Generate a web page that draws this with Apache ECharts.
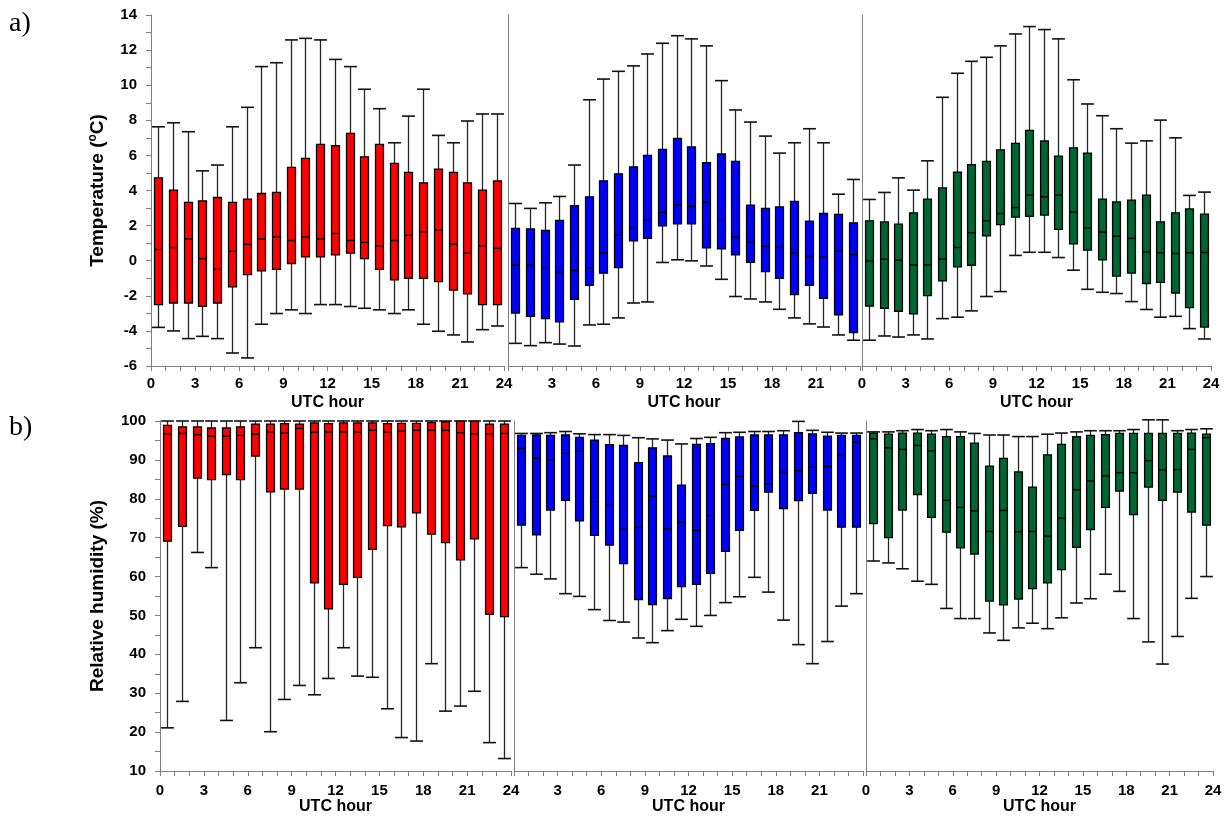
<!DOCTYPE html>
<html>
<head>
<meta charset="utf-8">
<script src="https://cdn.jsdelivr.net/npm/echarts/dist/echarts.min.js"></script>
<style>
  html, body { margin: 0; padding: 0; background: #fff; }
  #chart { width: 1226px; height: 816px; }
</style>
</head>
<body>
<div id="chart"></div>
<script>
// Hour of day (UTC) for each box
const hours = [0, 1, 2, 3, 4, 5, 6, 7, 8, 9, 10, 11, 12, 13, 14, 15, 16, 17, 18, 19, 20, 21, 22, 23];

// Each row: [min, lower quartile, median, upper quartile, max]
// a) Temperature (°C)
const tempRed = [
  [-3.80, -2.50, 0.64, 4.72, 7.63], [-4.00, -2.41, 0.75, 4.02, 7.86], [-4.44, -2.41, 1.24, 3.32, 7.35],
  [-4.31, -2.60, 0.12, 3.41, 5.12], [-4.44, -2.41, -0.49, 3.60, 5.45], [-5.26, -1.49, 0.54, 3.32, 7.63],
  [-5.54, -0.79, 0.94, 3.51, 8.74], [-3.62, -0.58, 1.24, 3.83, 11.06], [-3.01, -0.49, 1.36, 3.89, 11.28],
  [-2.80, -0.16, 1.15, 5.32, 12.58], [-3.01, 0.22, 1.36, 5.83, 12.67], [-2.50, 0.22, 1.24, 6.63, 12.58],
  [-2.50, 0.33, 1.55, 6.55, 11.47], [-2.61, 0.43, 1.15, 7.26, 11.06], [-2.71, 0.12, 1.04, 5.92, 9.77],
  [-2.80, -0.49, 0.85, 6.63, 8.66], [-3.01, -1.09, 1.15, 5.54, 6.72], [-2.80, -1.00, 1.45, 5.03, 8.24],
  [-3.62, -1.00, 1.64, 4.44, 9.77], [-4.02, -1.19, 1.76, 5.22, 7.14], [-4.23, -1.68, 0.94, 5.03, 6.72],
  [-4.63, -1.89, 0.43, 4.44, 7.96], [-3.93, -2.50, 0.85, 4.02, 8.36], [-3.72, -2.50, 0.70, 4.54, 8.36]
];
const tempBlue = [
  [-4.71, -2.98, -0.24, 1.84, 3.26], [-4.84, -3.17, -0.24, 1.81, 2.98], [-4.67, -3.30, -0.39, 1.72, 3.30],
  [-4.75, -3.49, -0.64, 2.29, 3.66], [-4.86, -2.20, -0.56, 3.13, 5.45], [-3.66, -1.40, -0.41, 3.64, 9.17],
  [-3.62, -0.71, 0.45, 4.55, 10.35], [-3.26, -0.39, 1.45, 4.95, 10.79], [-2.41, 1.13, 1.89, 5.35, 11.10],
  [-2.35, 1.27, 2.35, 6.00, 11.78], [-0.10, 1.99, 2.75, 6.34, 12.39], [0.05, 2.10, 3.18, 6.97, 12.82],
  [-0.01, 2.10, 3.09, 6.49, 12.64], [-0.30, 0.73, 3.34, 5.58, 12.24], [-1.06, 0.67, 2.35, 6.08, 10.26],
  [-2.04, 0.33, 1.36, 5.66, 8.59], [-2.18, -0.10, 1.07, 3.17, 7.90], [-2.35, -0.62, 0.83, 2.98, 7.10],
  [-2.77, -1.00, 0.77, 3.07, 6.13], [-3.26, -1.93, 0.45, 3.38, 6.72], [-3.60, -1.40, 0.27, 2.25, 7.52],
  [-3.78, -2.14, 0.20, 2.69, 6.72], [-4.23, -3.09, 0.54, 2.64, 3.79], [-4.53, -4.10, 0.35, 2.16, 4.63]
];
const tempGreen = [
  [-4.53, -2.58, -0.01, 2.27, 3.49], [-4.29, -2.71, 0.09, 2.21, 3.89], [-4.35, -2.88, 0.03, 2.08, 4.72],
  [-4.23, -3.03, -0.24, 2.73, 4.02], [-4.46, -1.99, -0.24, 3.51, 5.69], [-3.30, -1.15, 0.09, 4.15, 9.31],
  [-3.22, -0.35, 0.75, 5.05, 10.68], [-2.86, -0.26, 1.59, 5.47, 11.36], [-2.04, 1.41, 2.27, 5.66, 11.59],
  [-1.76, 2.06, 2.69, 6.32, 12.24], [0.30, 2.48, 3.03, 6.69, 12.92], [0.48, 2.52, 3.74, 7.43, 13.34],
  [0.48, 2.60, 3.64, 6.82, 13.17], [0.18, 1.78, 3.74, 5.96, 12.64], [-0.54, 0.96, 2.77, 6.43, 10.31],
  [-1.63, 0.60, 1.87, 6.13, 8.93], [-1.80, 0.05, 1.63, 3.51, 8.26], [-1.87, -0.88, 1.40, 3.35, 7.52],
  [-2.33, -0.71, 1.27, 3.45, 6.70], [-2.78, -1.30, 0.50, 3.74, 6.83], [-3.22, -1.23, 0.45, 2.21, 8.01],
  [-3.17, -1.84, 0.41, 2.73, 7.00], [-3.87, -2.67, 0.45, 2.95, 3.72], [-4.46, -3.78, 0.47, 2.65, 3.91]
];

// b) Relative humidity (%)
const rhRed = [
  [21.1, 69.1, 96.7, 98.9, 100], [27.9, 72.9, 96.8, 98.5, 100], [66.2, 85.3, 96.5, 98.5, 100],
  [62.3, 84.9, 96.1, 98.2, 100], [23.0, 86.2, 96.1, 98.2, 100], [32.7, 84.9, 96.3, 98.5, 100],
  [41.7, 91.0, 96.6, 99.2, 100], [20.1, 81.8, 97.2, 99.2, 100], [28.4, 82.5, 96.9, 99.3, 100],
  [32.0, 82.5, 98.1, 99.2, 100], [29.6, 58.4, 97.1, 99.5, 100], [33.8, 51.7, 97.2, 99.3, 100],
  [41.7, 58.0, 97.2, 99.5, 100], [34.4, 59.8, 97.2, 99.5, 100], [34.1, 67.0, 97.6, 99.5, 100],
  [26.0, 73.1, 97.2, 99.3, 100], [18.6, 72.8, 97.4, 99.4, 100], [17.7, 76.4, 97.6, 99.4, 100],
  [37.6, 70.9, 97.6, 99.6, 100], [25.4, 68.7, 97.6, 99.8, 100], [26.7, 64.3, 97.0, 99.9, 100],
  [30.5, 69.7, 96.7, 99.9, 100], [17.3, 50.3, 96.7, 99.2, 100], [13.2, 49.7, 96.8, 99.2, 100]
];
const rhBlue = [
  [62.3, 73.2, 93.0, 96.3, 96.8], [60.6, 70.7, 90.4, 96.4, 96.8], [59.4, 77.1, 90.0, 96.3, 97.0],
  [55.6, 79.6, 91.7, 96.4, 97.3], [54.9, 74.3, 92.2, 95.8, 96.7], [51.5, 70.6, 79.3, 95.1, 96.5],
  [48.7, 68.1, 78.3, 93.9, 96.5], [48.3, 63.3, 72.2, 93.7, 96.3], [44.2, 54.1, 72.7, 89.3, 95.7],
  [43.0, 52.8, 80.7, 93.1, 95.4], [46.1, 54.3, 72.3, 91.0, 95.1], [49.0, 57.4, 74.0, 83.5, 94.1],
  [47.2, 58.0, 71.9, 94.0, 95.5], [50.0, 60.8, 75.7, 94.2, 95.8], [53.3, 66.5, 83.7, 95.5, 97.0],
  [54.8, 71.9, 85.8, 95.9, 97.1], [59.8, 77.0, 83.2, 96.4, 97.3], [56.0, 81.7, 83.9, 96.4, 97.3],
  [48.8, 77.5, 86.9, 96.4, 97.5], [42.5, 79.5, 87.2, 97.0, 99.9], [37.6, 81.4, 88.1, 96.7, 97.6],
  [43.3, 77.1, 88.3, 96.1, 97.1], [52.4, 72.7, 91.2, 96.3, 96.9], [55.6, 72.7, 94.6, 96.3, 96.9]
];
const rhGreen = [
  [64.0, 73.6, 95.4, 96.9, 97.2], [63.5, 70.0, 93.1, 96.6, 97.2], [62.0, 77.1, 92.7, 96.9, 97.5],
  [58.8, 81.1, 93.7, 96.9, 97.8], [58.0, 75.2, 92.3, 96.6, 97.5], [51.8, 71.4, 79.6, 96.0, 97.8],
  [49.2, 67.4, 77.8, 96.0, 97.2], [49.2, 65.8, 76.9, 94.3, 96.8], [45.5, 53.7, 71.6, 88.4, 96.4],
  [43.6, 52.7, 77.0, 90.4, 96.4], [46.8, 54.2, 71.5, 86.9, 96.0], [48.0, 56.9, 71.6, 83.0, 96.0],
  [46.6, 58.4, 70.4, 91.3, 96.6], [49.4, 61.8, 75.0, 94.0, 96.9], [53.2, 67.5, 82.3, 96.0, 97.2],
  [54.3, 72.1, 84.6, 96.3, 97.5], [60.6, 77.8, 85.9, 96.5, 97.5], [56.2, 82.0, 86.7, 96.8, 97.5],
  [49.2, 75.9, 86.7, 96.8, 97.8], [43.2, 83.0, 89.8, 96.8, 100.3], [37.5, 79.6, 87.4, 96.8, 100.3],
  [44.6, 81.7, 87.5, 96.8, 97.5], [54.4, 76.6, 92.7, 96.9, 97.8], [60.0, 73.2, 95.7, 96.6, 98.0]
];

const RED = '#ff0000', BLUE = '#0000ff', GREEN = '#006633';
const SANS = '"Liberation Sans", Arial, sans-serif';
const AXIS_GREY = '#7f7f7f';

// Panel layout: two rows (temperature, humidity), three panels each
const panels = [
  { stats: tempRed,   color: RED,   grid: { left: 151, top: 15,  width: 353, height: 351 }, row: 0, first: true,  xLabels: 'all' },
  { stats: tempBlue,  color: BLUE,  grid: { left: 508, top: 15,  width: 352, height: 351 }, row: 0, first: false, xLabels: 'inner' },
  { stats: tempGreen, color: GREEN, grid: { left: 862, top: 15,  width: 349, height: 351 }, row: 0, first: false, xLabels: 'all' },
  { stats: rhRed,     color: RED,   grid: { left: 160, top: 421, width: 351, height: 350 }, row: 1, first: true,  xLabels: 'all' },
  { stats: rhBlue,    color: BLUE,  grid: { left: 514, top: 421, width: 349, height: 350 }, row: 1, first: false, xLabels: 'inner' },
  { stats: rhGreen,   color: GREEN, grid: { left: 866, top: 421, width: 347, height: 350 }, row: 1, first: false, xLabels: 'all' }
];

const rows = [
  { min: -6, max: 14, interval: 1, labelStep: 2, nameGap: 42,
    name: '{t|Temperature (}{s|o}{t|C)}' },
  { min: 10, max: 100, interval: 5, labelStep: 10, nameGap: 51,
    name: '{t|Relative humidity (%)}' }
];

function boxRenderer(color) {
  return function (params, api) {
    const x = api.value(0);
    const lo = api.coord([x, api.value(1)]);
    const q1 = api.coord([x, api.value(2)]);
    const md = api.coord([x, api.value(3)]);
    const q3 = api.coord([x, api.value(4)]);
    const hi = api.coord([x, api.value(5)]);
    const unit = api.size([1, 0])[0];
    const bw = unit * 0.54, cw = unit * 0.88;
    const cx = Math.round(lo[0]) + 0.5;
    const whisker = { stroke: '#262626', lineWidth: 1.3 };
    const cap = { stroke: '#111', lineWidth: 1.6 };
    return {
      type: 'group',
      children: [
        { type: 'line', shape: { x1: cx, y1: hi[1], x2: cx, y2: q3[1] }, style: whisker },
        { type: 'line', shape: { x1: cx, y1: q1[1], x2: cx, y2: lo[1] }, style: whisker },
        { type: 'line', shape: { x1: cx - cw / 2, y1: hi[1], x2: cx + cw / 2, y2: hi[1] }, style: cap },
        { type: 'line', shape: { x1: cx - cw / 2, y1: lo[1], x2: cx + cw / 2, y2: lo[1] }, style: cap },
        { type: 'rect', shape: { x: cx - bw / 2, y: q3[1], width: bw, height: q1[1] - q3[1] },
          style: { fill: color, stroke: '#000', lineWidth: 1.3 } },
        { type: 'line', shape: { x1: cx - bw / 2, y1: md[1], x2: cx + bw / 2, y2: md[1] },
          style: { stroke: '#000', lineWidth: 1.4 } }
      ]
    };
  };
}

const grids = [], xAxes = [], yAxes = [], series = [];
panels.forEach(function (p, i) {
  const r = rows[p.row];
  grids.push(Object.assign({ containLabel: false }, p.grid));
  xAxes.push({
    gridIndex: i, type: 'value', min: 0, max: 24, interval: 1,
    axisLine: { show: true, onZero: false, lineStyle: { color: AXIS_GREY, width: 1 } },
    axisTick: { show: true, length: 5, lineStyle: { color: AXIS_GREY } },
    splitLine: { show: false },
    axisLabel: {
      margin: p.row === 0 ? 10 : 12, fontSize: 15, fontWeight: 'bold', color: '#000', fontFamily: SANS,
      formatter: function (v) {
        if (v % 3 !== 0) return '';
        if (p.xLabels === 'inner' && (v === 0 || v === 24)) return '';
        return String(v);
      }
    },
    name: 'UTC hour', nameLocation: 'middle', nameGap: p.row === 0 ? 29 : 28,
    nameTextStyle: { fontSize: 16, fontWeight: 'bold', color: '#000', fontFamily: SANS }
  });
  const y = {
    gridIndex: i, type: 'value', min: r.min, max: r.max, interval: r.interval,
    axisLine: { show: true, onZero: false, lineStyle: { color: AXIS_GREY, width: 1 } },
    splitLine: { show: false },
    axisTick: { show: p.first, length: 5, lineStyle: { color: AXIS_GREY } },
    axisLabel: {
      show: p.first, margin: 14, fontSize: 15, fontWeight: 'bold', color: '#000', fontFamily: SANS,
      formatter: function (v) { return (Math.round(v) % r.labelStep === 0) ? String(v) : ''; }
    }
  };
  if (p.first) {
    y.name = r.name;
    y.nameLocation = 'middle';
    y.nameGap = r.nameGap;
    y.nameTextStyle = {
      color: '#000',
      rich: {
        t: { fontSize: 19, fontWeight: 'bold', fontFamily: SANS, color: '#000', lineHeight: 22 },
        s: { fontSize: 12, fontWeight: 'bold', fontFamily: SANS, color: '#000', verticalAlign: 'top', lineHeight: 22 }
      }
    };
  }
  yAxes.push(y);
  series.push({
    type: 'custom', xAxisIndex: i, yAxisIndex: i, clip: false,
    renderItem: boxRenderer(p.color),
    encode: { x: 0, y: [1, 2, 3, 4, 5] },
    data: hours.map(function (h, k) { return [h + 0.5].concat(p.stats[k]); })
  });
});

const chart = echarts.init(document.getElementById('chart'), null, { renderer: 'canvas' });
chart.setOption({
  backgroundColor: '#fff',
  animation: false,
  grid: grids,
  xAxis: xAxes,
  yAxis: yAxes,
  series: series,
  graphic: [
    { type: 'text', left: 9, top: 10, style: { text: 'a)', font: '28px "Liberation Serif", "Times New Roman", serif', fill: '#000' } },
    { type: 'text', left: 9, top: 414, style: { text: 'b)', font: '28px "Liberation Serif", "Times New Roman", serif', fill: '#000' } }
  ]
});
</script>
</body>
</html>
